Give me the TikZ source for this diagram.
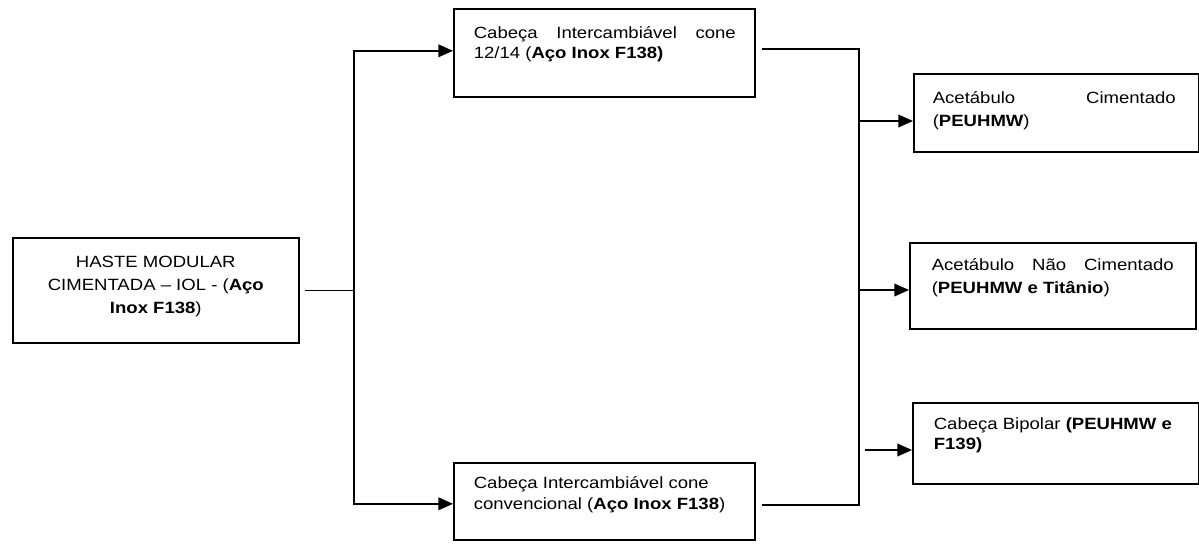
\documentclass[tikz,border=0pt]{standalone}
\usepackage{fontspec}
\setmainfont{Liberation Sans}[FakeStretch=1.14]
\usetikzlibrary{arrows.meta,calc}
\newlength\pxu \setlength\pxu{0.75pt}
% W H padL padR firstbaseline baselineskip content  (all in px)
\newcommand\bxt[7]{%
  \begin{minipage}[c][#2\pxu][t]{#1\pxu}%
  \fontsize{12.2pt}{\the\dimexpr#6\pxu\relax}\selectfont
  \setlength\leftskip{#3\pxu}\setlength\rightskip{#4\pxu}%
  \vspace*{\dimexpr#5\pxu-\ht\strutbox\relax}%
  #7\par
  \end{minipage}}
\tikzset{
  bx/.style={draw, line width=1.2pt, inner sep=0pt, anchor=north west},
  ln/.style={line width=1.1pt},
  arr/.style={ln, -{Triangle[length=11pt,width=9.5pt]}}
}
\begin{document}
\begin{tikzpicture}[x=0.75pt,y=-0.75pt]
\useasboundingbox (0,0) rectangle (1199,544);

\node[bx] (haste) at (12,237) {\bxt{286}{105}{0}{0}{30}{23}{\centering\strut HASTE MODULAR\\\strut CIMENTADA – IOL - (\textbf{Aço}\\\strut\textbf{Inox F138})}};

\node[bx] (top) at (453,8) {\bxt{301}{88}{20}{19}{30}{20}{\strut Cabeça\hfill Intercambiável\hfill cone\\\strut 12/14 (\textbf{Aço Inox F138)}}};

\node[bx] (bot) at (453,462) {\bxt{301}{77}{20}{10}{26}{21}{\strut Cabeça Intercambiável cone\\\strut convencional (\textbf{Aço Inox F138})}};

\node[bx] (r1) at (913,73) {\bxt{285}{78}{19}{23}{30}{23}{\strut Acetábulo\hfill Cimentado\\\strut(\textbf{PEUHMW})}};

\node[bx] (r2) at (909,242) {\bxt{286}{86}{22}{22}{28}{23}{\strut Acetábulo\hfill Não\hfill Cimentado\\\strut(\textbf{PEUHMW e Titânio})}};

\node[bx] (r3) at (912,402) {\bxt{286}{81}{21}{10}{27}{20}{\strut Cabeça Bipolar \textbf{(PEUHMW e}\\\strut\textbf{F139)}}};

% left junction
\coordinate (jL) at (354,289);
\path ([xshift=3.75pt]haste.east) coordinate (he);
\draw[ln] (he) -- (he -| jL);
\draw[arr] (jL) |- ($(top.west)+(0,-2)$);
\draw[arr] (jL) |- ($(bot.west)+(0,2.5)$);

% right collector
\coordinate (rt) at (859,49);
\coordinate (rb) at (859,505);
\path ([xshift=4.5pt]top.east) coordinate (te);
\path ([xshift=4.5pt]bot.east) coordinate (be);
\draw[ln] (te |- rt) -- (rt) -- (rb) -- (be |- rb);

\coordinate (a1) at (859,121);
\coordinate (a2) at (859,290);
\coordinate (a3) at (865,450);
\draw[arr] (a1) -- (a1 -| r1.west);
\draw[arr] (a2) -- (a2 -| r2.west);
\draw[arr] (a3) -- (a3 -| r3.west);
\end{tikzpicture}
\end{document}
